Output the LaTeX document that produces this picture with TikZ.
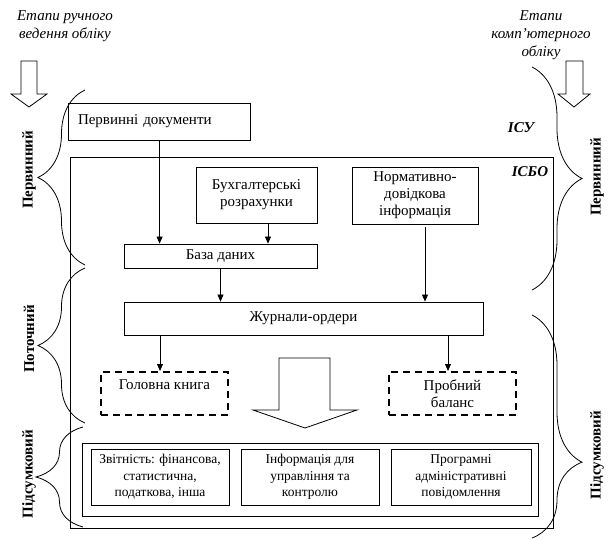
\documentclass[tikz,border=0pt]{standalone}
\usepackage{fontspec}
\setmainfont{Liberation Serif}
\usepackage{tikz}
\usetikzlibrary{
  arrows.meta,
  calc,
  decorations.pathreplacing
}
\tikzset{
  plainbox/.style={draw, line width=0.8pt, inner sep=0pt,
    align=center, font=\fontsize{15}{17}\selectfont},
  dashbox/.style={draw, line width=2pt, dash pattern=on 7pt off 5pt,
    inner sep=0pt, align=center, font=\fontsize{15}{17}\selectfont},
  frame/.style={draw, line width=0.8pt, inner sep=0pt},
  arr/.style={-{Triangle[length=7pt,width=6pt]}, line width=0.8pt},
  hint/.style={align=center, font=\fontsize{15}{18}\selectfont\itshape},
  stage/.style={rotate=90, font=\fontsize{15}{17}\selectfont\bfseries},
  syslabel/.style={font=\fontsize{15}{17}\selectfont\bfseries\itshape},
  lbrace/.style={decorate, decoration={brace, amplitude=47pt}, line width=0.8pt},
  rbrace/.style={decorate, decoration={brace, amplitude=50pt}, line width=0.8pt},
}
\newcommand{\hollowarrow}[7]{%
  \draw[line width=0.8pt, fill=white] (#1,#3) -- (#2,#3) -- (#2,#4) -- (#6,#4)
    -- ({(#5+#6)/2},#7) -- (#5,#4) -- (#1,#4) -- cycle;}

\begin{document}
\begin{tikzpicture}[x=1pt, y=-1pt]
  \useasboundingbox (0,0) rectangle (611,540);

  % headings
  \node[hint] (ruch) at (65,26) {Етапи ручного\\ведення обліку};
  \node[hint] (komp) at (541,35) {Етапи\\комп’ютерного\\обліку};
  \hollowarrow{21}{37}{61}{94}{11}{47}{107}
  \hollowarrow{566}{583}{61}{94}{558}{590}{107}

  % frames
  \node[frame, minimum width=483pt, minimum height=371pt] (isbo) at (311.5,342.5) {};
  \node[syslabel] (isu-l) at (521,128) {ІСУ};
  \node[syslabel] (isbo-l) at (530,172) {ІСБО};

  % boxes
  \node[plainbox, minimum width=182pt, minimum height=37pt,
    text width=162pt, align=left] (pd) at (159,121.5) {Первинні документи};
  \node[plainbox, minimum width=121pt, minimum height=56pt] (bukh) at (256.5,195) {Бухгалтерські\\розрахунки};
  \node[plainbox, minimum width=126pt, minimum height=57pt] (norm) at (415,195.5) {Нормативно-\\довідкова\\інформація};
  \node[plainbox, minimum width=193pt, minimum height=24pt] (bd) at (220.5,256) {База даних};
  \node[plainbox, minimum width=359pt, minimum height=33pt] (jo) at (303.5,318.5) {Журнали-ордери};
  \node[dashbox, minimum width=127pt, minimum height=43pt] (gk) at (164.5,393.5) {Головна книга\\~};
  \node[dashbox, minimum width=127pt, minimum height=43pt] (pb) at (452.5,393.5) {Пробний\\баланс};
  \hollowarrow{279}{330}{358}{410}{253}{357}{428}

  % reports
  \node[frame, minimum width=456pt, minimum height=73pt] (rep) at (310,479.5) {};
  \tikzset{repbox/.style={plainbox, minimum height=56pt, font=\fontsize{13.5}{16.5}\selectfont}}
  \node[repbox, minimum width=138pt] (zv) at (160,477) {Звітність: фінансова,\\статистична,\\податкова, інша};
  \node[repbox, minimum width=138pt] (inf) at (310,477) {Інформація для\\управління та\\контролю};
  \node[repbox, minimum width=140pt] (prog) at (461,477) {Програмні\\адміністративні\\повідомлення};

  % connectors
  \coordinate (p1) at ($(pd.south west)+(92,0)$);
  \coordinate (b1) at ($(bukh.south)+(11.5,0)$);
  \coordinate (n1) at ($(norm.south)+(10,3)$);
  \coordinate (j1) at ($(gk.north)+(-4.5,0)$);
  \coordinate (j2) at ($(pb.north)+(-4.5,0)$);
  \draw[arr] (p1) -- (p1 |- bd.north);
  \draw[arr] (b1) -- (b1 |- bd.north);
  \draw[arr] (bd.south) -- (bd.south |- jo.north);
  \draw[arr] (n1) -- (n1 |- jo.north);
  \draw[arr] (j1 |- jo.south) -- (j1);
  \draw[arr] (j2 |- jo.south) -- (j2);

  % stages
  \draw[lbrace] (85,265) -- (85,90);
  \draw[lbrace] (85,423) -- (85,268);
  \draw[lbrace] (83,527) -- (83,427);
  \draw[rbrace] (532,67) -- (532,290);
  \draw[rbrace, decoration={aspect=0.66}] (532,315) -- (532,538);
  \node[stage] (perv-l) at (29,170) {Первинний};
  \node[stage] (potoch) at (29,339) {Поточний};
  \node[stage] (pids-l) at (29,474) {Підсумковий};
  \node[stage] (perv-r) at (597,177) {Первинний};
  \node[stage] (pids-r) at (597,455) {Підсумковий};
\end{tikzpicture}
\end{document}
